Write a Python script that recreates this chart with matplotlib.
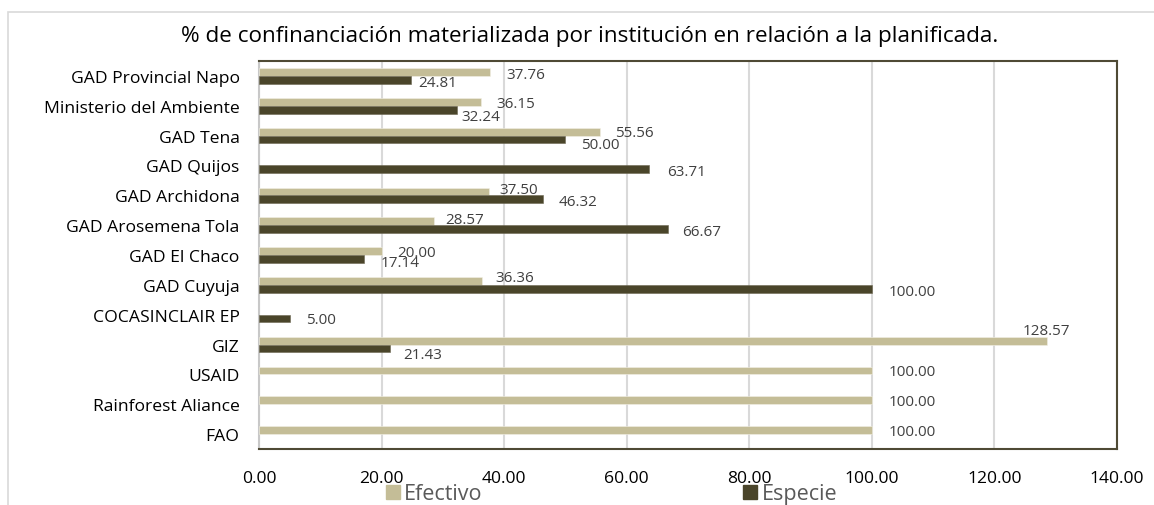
import matplotlib
matplotlib.use("Agg")
import matplotlib.pyplot as plt
import numpy as np
from matplotlib.patches import Rectangle, Patch

plt.rcParams["font.family"] = ["Open Sans", "DejaVu Sans"]

# data
instituciones = [
    "GAD Provincial Napo", "Ministerio del Ambiente", "GAD Tena", "GAD Quijos",
    "GAD Archidona", "GAD Arosemena Tola", "GAD El Chaco", "GAD Cuyuja",
    "COCASINCLAIR EP", "GIZ", "USAID", "Rainforest Aliance", "FAO",
]
efectivo = [37.76, 36.15, 55.56, None, 37.50, 28.57, 20.00, 36.36, None, 128.57, 100.00, 100.00, 100.00]
especie = [24.81, 32.24, 50.00, 63.71, 46.32, 66.67, 17.14, 100.00, 5.00, 21.43, None, None, None]
xticks = [0, 20, 40, 60, 80, 100, 120, 140]
titulo = "% de confinanciación materializada por institución en relación a la planificada."

# label nudges in pixels (right, down), like the hand-moved labels of the original
eff_nudge = [(16, 2), (16, 1.5), (16, 1), None, (11, -1.5), (11, -1.5), (16, 1),
             (14, -3), None, (-24, -10.5), (17, 1), (17, 1), (17, 1)]
esp_nudge = [(7, 3), (5, 7), (16, 5), (18, 2), (16, 2), (15, 2), (17, 4),
             (17, 2.5), (16, 1), (13, 6.5), None, None, None]

c_eff = "#c4bd97"
c_esp = "#4a452a"
h = 0.26

fig = plt.figure(figsize=(11.54, 5.06), dpi=100)
ax = fig.add_axes([0.2244, 0.1107, 0.968 - 0.2244, 0.8775 - 0.1107])

y = np.arange(len(instituciones))
eff = np.array([np.nan if v is None else v for v in efectivo])
esp = np.array([np.nan if v is None else v for v in especie])
m_eff = ~np.isnan(eff)
m_esp = ~np.isnan(esp)

ax.barh(y[m_eff] - h / 2, eff[m_eff], height=h, color=c_eff, edgecolor="#f2f0e6", linewidth=0.4, zorder=3)
ax.barh(y[m_esp] + h / 2, esp[m_esp], height=h, color=c_esp, edgecolor="#6b6650", linewidth=0.4, zorder=3)

for i in range(len(instituciones)):
    if m_eff[i]:
        dx, dy = eff_nudge[i]
        ax.annotate(f"{eff[i]:.2f}", xy=(eff[i], y[i] - h / 2), xytext=(dx, -dy),
                    textcoords="offset pixels", ha="left", va="center",
                    fontsize=11, color="#404040", zorder=4)
    if m_esp[i]:
        dx, dy = esp_nudge[i]
        ax.annotate(f"{esp[i]:.2f}", xy=(esp[i], y[i] + h / 2), xytext=(dx, -dy),
                    textcoords="offset pixels", ha="left", va="center",
                    fontsize=11, color="#404040", zorder=4)

ax.set_ylim(len(instituciones) - 0.5, -0.5)
ax.set_yticks(y)
ax.set_yticklabels(instituciones, fontsize=12.6, color="#000000")
ax.set_xlim(0, 140)
ax.set_xticks(xticks)
ax.set_xticklabels([f"{t:.2f}" for t in xticks], fontsize=12.6, color="#000000")
ax.tick_params(axis="both", length=0)
ax.tick_params(axis="x", pad=15)
ax.tick_params(axis="y", pad=14)

ax.grid(axis="x", color="#d9d9d9", linewidth=1.5, zorder=0)
ax.set_axisbelow(True)
for s in ["top", "right", "bottom"]:
    ax.spines[s].set_color("#4f4a35")
    ax.spines[s].set_linewidth(1.5)
ax.spines["left"].set_color("#c8c8c8")
ax.spines["left"].set_linewidth(1.5)

fig.text(0.511, 0.928, titulo, ha="center", va="center", fontsize=16.2, color="#000000")

handles = [Patch(color=c_eff, label="Efectivo"), Patch(color=c_esp, label="Especie")]
fig.legend(handles=handles, loc="center", bbox_to_anchor=(0.530, 0.022), ncol=2,
           frameon=False, fontsize=15.5, handlelength=0.65, handleheight=0.65,
           handletextpad=0.2, columnspacing=12.1, labelcolor="#595959")

# outer chart border
fig.patches.append(Rectangle((8 / 1154, -0.1), 1.1, (506 - 13) / 506 + 0.1,
                             transform=fig.transFigure, fill=False,
                             edgecolor="#d9d9d9", linewidth=1.2))

fig.savefig("out.png", dpi=100)
